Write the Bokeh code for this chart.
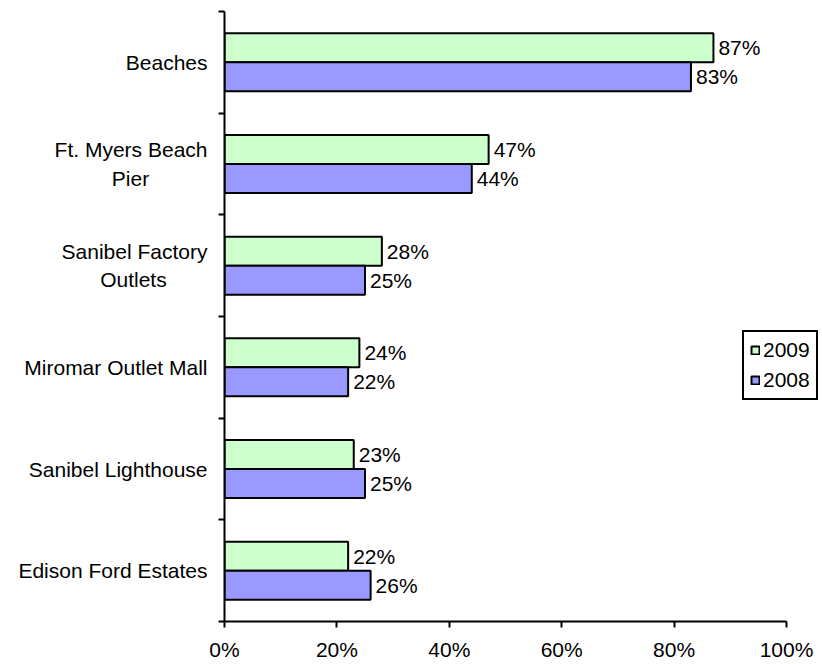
from bokeh.plotting import figure
from bokeh.models import (Range1d, FixedTicker, NumeralTickFormatter, ColumnDataSource,
                          Legend, LegendItem, LabelSet)
from bokeh.core.properties import value
from bokeh.embed import file_html
from bokeh.resources import INLINE

categories = ["Beaches", "Ft. Myers Beach\nPier", "Sanibel Factory\nOutlets",
              "Miromar Outlet Mall", "Sanibel Lighthouse", "Edison Ford Estates"]
values_2009 = [0.87, 0.47, 0.28, 0.24, 0.23, 0.22]
values_2008 = [0.83, 0.44, 0.25, 0.22, 0.25, 0.26]
x_ticks = [0, 0.2, 0.4, 0.6, 0.8, 1.0]

FONT = "Liberation Sans"
FS_PX = 21
FS = f"{FS_PX}px"

# approximate Arial/Liberation Sans advance widths (em), used to centre wrapped lines
W = {" ": .278, ".": .278, "B": .667, "E": .667, "F": .611, "M": .833, "O": .778,
     "P": .667, "S": .667, "L": .556, "a": .556, "b": .556, "c": .5, "d": .556,
     "e": .556, "h": .556, "i": .222, "l": .222, "n": .556, "o": .556, "r": .333,
     "s": .5, "t": .278, "u": .556, "y": .5, "g": .556, "m": .833, "f": .278}


def centre_lines(s):
    lines = s.split("\n")
    if len(lines) == 1:
        return s
    widths = [sum(W.get(ch, .556) for ch in ln) for ln in lines]
    wmax = max(widths)
    out = []
    for ln, w in zip(lines, widths):
        k = int(round((wmax - w) / 2 / W[" "]))
        out.append(ln + "\u00a0" * k)
    return "\n".join(out)


n = len(categories)
pos = [n - 1 - i + 0.5 for i in range(n)]   # first category at top
bar_h = 0.285

src09 = ColumnDataSource(dict(y=[q + bar_h / 2 for q in pos], v=values_2009,
                              lab=[f"{round(v*100)}%" for v in values_2009]))
src08 = ColumnDataSource(dict(y=[q - bar_h / 2 for q in pos], v=values_2008,
                              lab=[f"{round(v*100)}%" for v in values_2008]))

p = figure(width=818, height=664, output_backend="svg", toolbar_location=None,
           x_range=Range1d(0, 594 / 562), y_range=Range1d(0, n),
           min_border_left=224, min_border_right=0, min_border_top=11, min_border_bottom=43)
p.outline_line_color = None
p.xgrid.grid_line_color = None
p.ygrid.grid_line_color = None

r09 = p.hbar(y="y", right="v", left=0, height=bar_h, source=src09,
             fill_color="#CCFFCC", line_color="black", line_width=2)
r08 = p.hbar(y="y", right="v", left=0, height=bar_h, source=src08,
             fill_color="#9999FF", line_color="black", line_width=2)

for s in (src09, src08):
    p.add_layout(LabelSet(x="v", y="y", text="lab", source=s, x_offset=5,
                          text_baseline="middle", text_align="left",
                          text_font=value(FONT), text_font_size=value(FS),
                          text_color="black"))

# x axis
p.xaxis.ticker = FixedTicker(ticks=x_ticks)
p.xaxis.bounds = (0, 1)
p.xaxis.formatter = NumeralTickFormatter(format="0%")
p.xaxis.major_label_text_font = FONT
p.xaxis.major_label_text_font_size = FS
p.xaxis.major_label_text_color = "black"
p.xaxis.major_tick_in = 0
p.xaxis.major_tick_out = 6
p.xaxis.minor_tick_line_color = None
p.xaxis.axis_line_width = 2
p.xaxis.major_tick_line_width = 2
p.xaxis.major_label_standoff = 10

# y axis: category labels at band centres, tick marks at band boundaries
p.yaxis.ticker = FixedTicker(ticks=pos, minor_ticks=list(range(n + 1)))
p.yaxis.major_label_overrides = {q: centre_lines(c) for q, c in zip(pos, categories)}
p.yaxis.major_tick_line_color = None
p.yaxis.major_tick_in = 0
p.yaxis.major_tick_out = 6
p.yaxis.minor_tick_in = 0
p.yaxis.minor_tick_out = 6
p.yaxis.minor_tick_line_width = 2
p.yaxis.axis_line_width = 2
p.yaxis.major_label_text_font = FONT
p.yaxis.major_label_text_font_size = FS
p.yaxis.major_label_text_color = "black"
p.yaxis.major_label_text_line_height = 1.22
p.yaxis.major_label_standoff = 11

legend = Legend(items=[LegendItem(label="2009", renderers=[r09]),
                       LegendItem(label="2008", renderers=[r08])],
                location=(518, 221), orientation="vertical",
                label_text_font=FONT, label_text_font_size=FS, label_text_color="black",
                glyph_width=10, glyph_height=10, label_standoff=3,
                label_height=24, padding=6, spacing=6, margin=0,
                border_line_color="black", border_line_width=2, border_line_alpha=1,
                background_fill_alpha=1)
p.add_layout(legend, "center")

open("out.html", "w").write(file_html(p, INLINE))
